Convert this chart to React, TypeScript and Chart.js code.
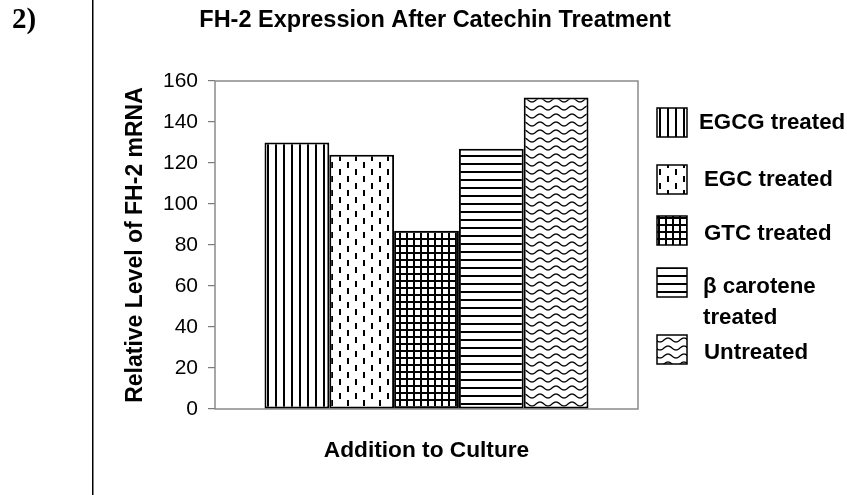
import React, { useEffect, useRef } from 'react';
import { Chart, registerables } from 'chart.js';

Chart.register(...registerables);

// ---- data ----
const categories = [''];
const seriesNames = ['EGCG treated', 'EGC treated', 'GTC treated', 'β carotene treated', 'Untreated'];
const legendLines = [['EGCG treated'], ['EGC treated'], ['GTC treated'], ['β carotene', 'treated'], ['Untreated']];
const seriesValues = [130, 124, 87, 127, 152];
const patternKinds = ['vertical', 'dashes', 'grid', 'horizontal', 'wave'];
const yMin = 0;
const yMax = 160;
const yStep = 20;
const chartTitle = 'FH-2 Expression After Catechin Treatment';
const xTitle = 'Addition to Culture';
const yTitle = 'Relative Level of FH-2 mRNA';
const panelLabel = '2)';

const SANS = "'Liberation Sans', Arial, sans-serif";
const SERIF = "'Liberation Serif', 'Times New Roman', serif";

function makePattern(kind: string): CanvasPattern | string {
  const c = document.createElement('canvas');
  let w = 8;
  let h = 8;
  if (kind === 'dashes') { w = 16; h = 14; }
  if (kind === 'grid') { w = 7; h = 7; }
  if (kind === 'wave') { w = 16; h = 8; }
  c.width = w;
  c.height = h;
  const ctx = c.getContext('2d');
  if (!ctx) return '#fff';
  ctx.fillStyle = '#fff';
  ctx.fillRect(0, 0, w, h);
  ctx.fillStyle = '#000';
  ctx.strokeStyle = '#000';
  if (kind === 'vertical') {
    ctx.fillRect(3, 0, 2, 8);
  } else if (kind === 'dashes') {
    ctx.fillRect(3, 1, 2, 6);
    ctx.fillRect(11, 8, 2, 6);
  } else if (kind === 'grid') {
    ctx.fillRect(0, 0, 2, 7);
    ctx.fillRect(0, 0, 7, 2);
  } else if (kind === 'horizontal') {
    ctx.fillRect(0, 3, 8, 2);
  } else if (kind === 'wave') {
    ctx.lineWidth = 1.3;
    ctx.beginPath();
    for (let i = -1; i <= w + 1; i += 0.5) {
      const y = 4 + 2 * Math.sin((i / w) * Math.PI * 2);
      if (i === -1) ctx.moveTo(i, y);
      else ctx.lineTo(i, y);
    }
    ctx.stroke();
  }
  const p = ctx.createPattern(c, 'repeat');
  return p || '#fff';
}

export default function App() {
  const ref = useRef<HTMLCanvasElement | null>(null);

  useEffect(() => {
    const canvas = ref.current;
    if (!canvas) return;
    const patterns = patternKinds.map(makePattern);

    const legendLayout = [
      { top: 108, textX: 699, ys: [123] },
      { top: 165, textX: 704, ys: [180] },
      { top: 216, textX: 704, ys: [234] },
      { top: 268, textX: 703, ys: [287, 318] },
      { top: 335, textX: 704, ys: [353] },
    ];

    const decor = {
      id: 'decor',
      beforeDatasetsDraw(chart: any) {
        const ctx = chart.ctx as CanvasRenderingContext2D;
        const a = chart.chartArea;
        ctx.save();
        ctx.strokeStyle = '#8a8a8a';
        ctx.lineWidth = 1.5;
        ctx.strokeRect(a.left, a.top, a.right - a.left, a.bottom - a.top);
        ctx.restore();
      },
      afterDraw(chart: any) {
        const ctx = chart.ctx as CanvasRenderingContext2D;
        ctx.save();
        // divider line
        ctx.fillStyle = '#000';
        ctx.fillRect(92, 0, 1.5, 495);
        // panel label
        ctx.font = `bold 29px ${SERIF}`;
        ctx.textAlign = 'left';
        ctx.textBaseline = 'middle';
        ctx.fillText(panelLabel, 12, 21);
        // title
        ctx.font = `bold 23.5px ${SANS}`;
        ctx.textAlign = 'center';
        ctx.fillText(chartTitle, 435, 21);
        // legend
        legendLayout.forEach((it, i) => {
          ctx.fillStyle = patterns[i] as any;
          ctx.fillRect(657, it.top, 30, 29);
          ctx.strokeStyle = '#000';
          ctx.lineWidth = 1.5;
          ctx.strokeRect(657, it.top, 30, 29);
          ctx.fillStyle = '#000';
          ctx.font = `bold 22.3px ${SANS}`;
          ctx.textAlign = 'left';
          ctx.textBaseline = 'middle';
          legendLines[i].forEach((line, j) => {
            ctx.fillText(line, it.textX, it.ys[j]);
          });
        });
        ctx.restore();
      },
    };

    const chart = new Chart(canvas, {
      type: 'bar',
      data: {
        labels: categories,
        datasets: seriesNames.map((name, i) => ({
          label: name,
          data: [seriesValues[i]],
          backgroundColor: patterns[i] as any,
          borderColor: '#000',
          borderWidth: 2,
          borderSkipped: false,
          categoryPercentage: 0.766,
          barPercentage: 1,
        })),
      },
      options: {
        responsive: false,
        animation: false,
        devicePixelRatio: 1,
        layout: { padding: { top: 81, right: 209, left: 0, bottom: 0 } },
        plugins: {
          legend: { display: false },
          tooltip: { enabled: false },
          title: { display: false },
        },
        scales: {
          x: {
            ticks: { display: false },
            grid: { display: false },
            border: { display: false },
            title: {
              display: true,
              text: xTitle,
              color: '#000',
              font: { family: SANS, size: 22.7, weight: 'bold' },
              padding: { top: 0, bottom: 31 },
            },
            afterFit: (scale: any) => { scale.height = 86; },
          },
          y: {
            min: yMin,
            max: yMax,
            ticks: {
              stepSize: yStep,
              color: '#000',
              padding: 10,
              font: { family: SANS, size: 21 },
            },
            grid: {
              drawOnChartArea: false,
              drawTicks: true,
              tickLength: 7,
              color: '#7a7a7a',
              lineWidth: 1.2,
            },
            border: { display: false },
            title: {
              display: true,
              text: yTitle,
              color: '#000',
              font: { family: SANS, size: 23, weight: 'bold' },
              padding: { top: 122, bottom: 0 },
            },
            afterFit: (scale: any) => { scale.width = 215; },
          },
        },
      },
      plugins: [decor],
    });

    return () => chart.destroy();
  }, []);

  return (
    <div style={{ position: 'fixed', left: 0, top: 0, width: 847, height: 495, background: '#fff' }}>
      <canvas ref={ref} width={847} height={495} style={{ width: 847, height: 495, display: 'block' }} />
    </div>
  );
}
